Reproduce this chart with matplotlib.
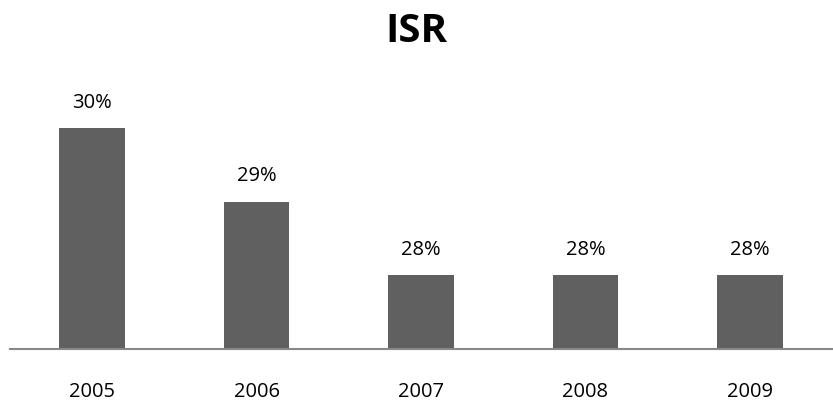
import matplotlib.pyplot as plt

years = ['2005', '2006', '2007', '2008', '2009']
rates = [30, 29, 28, 28, 28]
labels = ['30%', '29%', '28%', '28%', '28%']

plt.rcParams['font.family'] = ['Open Sans', 'DejaVu Sans']

fig = plt.figure(figsize=(8.33, 4.02), dpi=100)
ax = fig.add_axes([10 / 833, 52 / 402, 822 / 833, 295 / 402])

x = range(len(years))
bars = ax.bar(x, rates, width=0.4, color='#606060', bottom=0)
ax.set_ylim(27, 31)
ax.set_xlim(-0.5, len(years) - 0.5)

for xi, v, lab in zip(x, rates, labels):
    ax.text(xi, v + 0.22, lab, ha='center', va='bottom', fontsize=14.5)

ax.set_xticks(list(x))
ax.set_xticklabels(years, fontsize=14.5)
ax.tick_params(axis='x', length=0, pad=23)
ax.set_yticks([])
for s in ['top', 'left', 'right']:
    ax.spines[s].set_visible(False)
ax.spines['bottom'].set_color('#888888')
ax.spines['bottom'].set_linewidth(1.5)

fig.text(0.5, 1 - 32 / 402, 'ISR', ha='center', va='center',
         fontsize=29, fontweight='bold')

fig.savefig('out.png', dpi=100)
